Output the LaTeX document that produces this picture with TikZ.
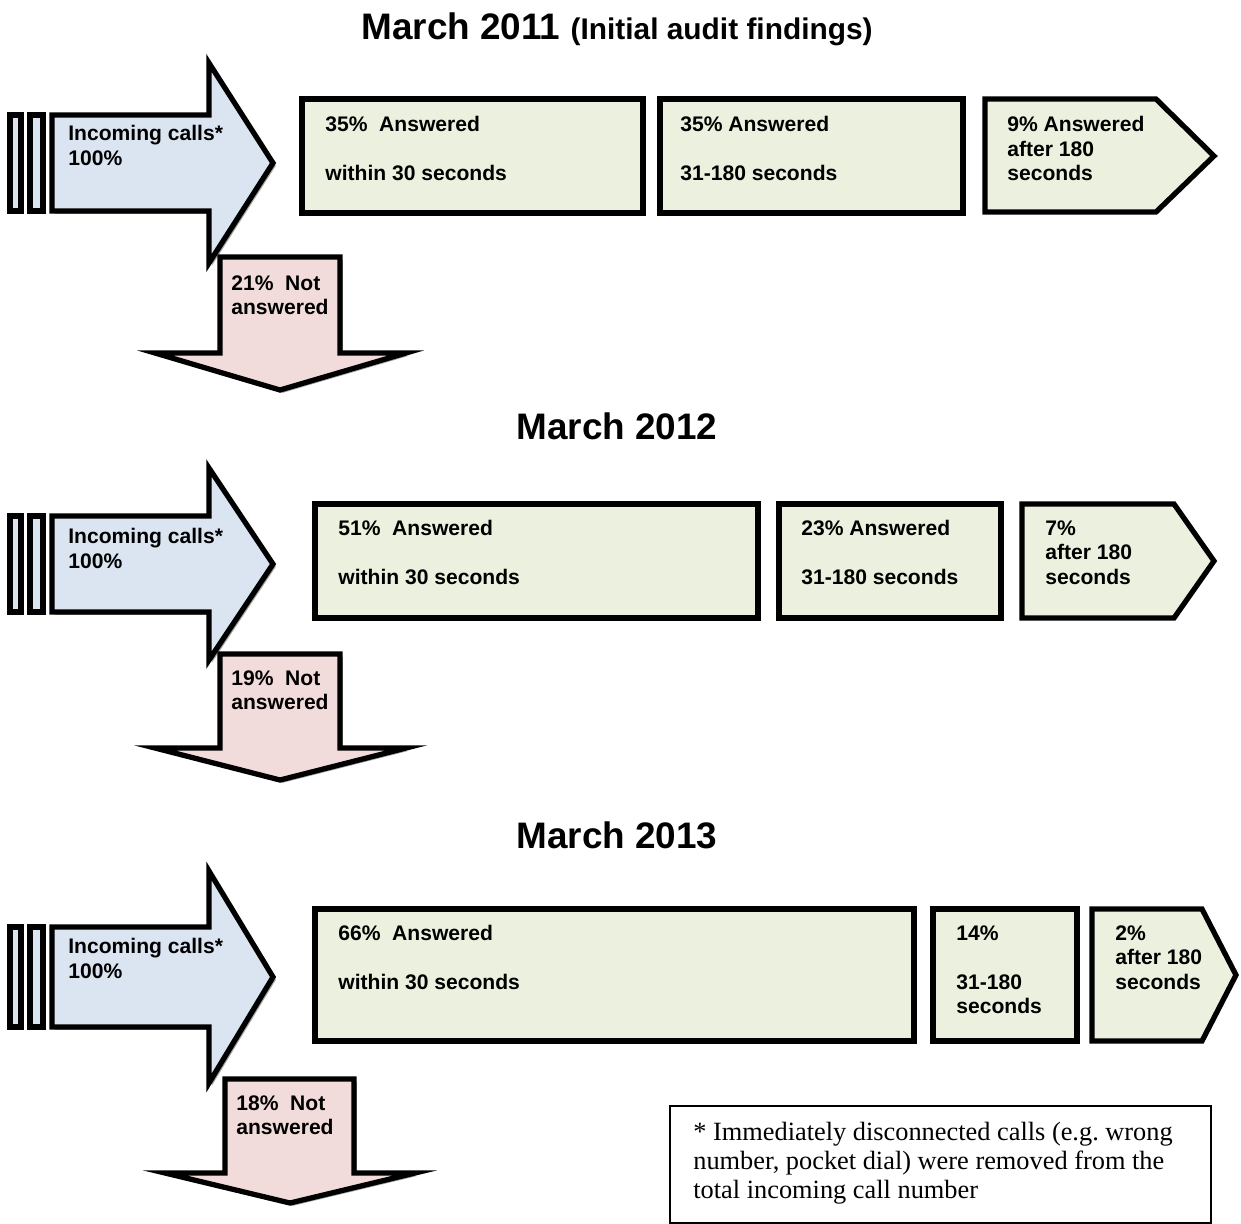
\documentclass[tikz,border=0pt]{standalone}
\usepackage{fontspec}
\setmainfont{Liberation Sans}
\newfontfamily\notefont{Liberation Serif}
\usepackage{xcolor}
\definecolor{callblue}{RGB}{219, 229, 241}
\definecolor{lostpink}{RGB}{242, 220, 219}
\definecolor{ansgreen}{RGB}{235, 241, 222}
\usetikzlibrary{shadows}

\begin{document}
\begin{tikzpicture}[
  x=0.02cm, y=-0.02cm,
  shade/.style={drop shadow={shadow xshift=1.6pt, shadow yshift=-1.6pt, fill=black!35, opacity=1}},
  inarrow/.style={draw=black, line width=3pt, fill=callblue, shade},
  lostarrow/.style={draw=black, line width=3pt, fill=lostpink, shade},
  ansbox/.style={draw=black, line width=3pt, fill=ansgreen},
  lbl/.style={anchor=north west, inner sep=0pt, align=left, font=\fontsize{12}{14}\selectfont\bfseries},
  title/.style={anchor=base, inner sep=0pt, font=\fontsize{21}{25}\selectfont\bfseries}
]
\useasboundingbox (0,0) rectangle (1241,1224);

% March 2011
\node[title] (title1) at (617,39) {March 2011 {\fontsize{17}{20}\selectfont (Initial audit findings)}};
\draw[inarrow] (10,115) rectangle (21,211);
\draw[inarrow] (30,115) rectangle (43,211);
\draw[inarrow] (52,115) -- (209,115) -- (209,63) -- (273,163) -- (209,263) -- (209,211) -- (52,211) -- cycle;
\draw[lostarrow] (220,257) -- (340,257) -- (340,353) -- (406,353) -- (280,390) -- (155,353) -- (220,353) -- cycle;
\draw[ansbox] (302,99) rectangle (643,213);
\draw[ansbox] (660,99) rectangle (963,213);
\draw[ansbox] (985,99) -- (1156,99) -- (1214,156) -- (1156,212) -- (985,212) -- cycle;
\node[lbl] (in1) at (68,125) {Incoming calls*\\100\%};
\node[lbl] (lost1) at (231,275) {21\%~ Not\\answered};
\node[lbl] (a1) at (325,116) {35\%~ Answered\\[14pt]within 30 seconds};
\node[lbl] (b1) at (680,116) {35\% Answered\\[14pt]31-180 seconds};
\node[lbl] (c1) at (1007,116) {9\% Answered\\after 180\\seconds};

% March 2012
\node[title] (title2) at (617,439) {March 2012};
\draw[inarrow] (10,516) rectangle (21,612);
\draw[inarrow] (30,516) rectangle (43,612);
\draw[inarrow] (52,516) -- (209,516) -- (209,468) -- (273,564) -- (209,660) -- (209,612) -- (52,612) -- cycle;
\draw[lostarrow] (220,654) -- (340,654) -- (340,748) -- (406,748) -- (280,780) -- (155,748) -- (220,748) -- cycle;
\draw[ansbox] (315,504) rectangle (758,618);
\draw[ansbox] (779,504) rectangle (1001,618);
\draw[ansbox] (1022,504) -- (1174,504) -- (1214,561) -- (1174,618) -- (1022,618) -- cycle;
\node[lbl] (in2) at (68,528) {Incoming calls*\\100\%};
\node[lbl] (lost2) at (231,670) {19\%~ Not\\answered};
\node[lbl] (a2) at (338,520) {51\%~ Answered\\[14pt]within 30 seconds};
\node[lbl] (b2) at (801,520) {23\% Answered\\[14pt]31-180 seconds};
\node[lbl] (c2) at (1045,520) {7\%\\after 180\\seconds};

% March 2013
\node[title] (title3) at (617,848) {March 2013};
\draw[inarrow] (10,927) rectangle (21,1027);
\draw[inarrow] (30,927) rectangle (43,1027);
\draw[inarrow] (52,927) -- (209,927) -- (209,871) -- (273,977) -- (209,1083) -- (209,1027) -- (52,1027) -- cycle;
\draw[lostarrow] (225,1079) -- (354,1079) -- (354,1173) -- (415,1173) -- (290,1203) -- (165,1173) -- (225,1173) -- cycle;
\draw[ansbox] (315,909) rectangle (914,1041);
\draw[ansbox] (933,909) rectangle (1077,1041);
\draw[ansbox] (1092,909) -- (1202,909) -- (1236,975) -- (1202,1041) -- (1092,1041) -- cycle;
\node[lbl] (in3) at (68,938) {Incoming calls*\\100\%};
\node[lbl] (lost3) at (236,1095) {18\%~ Not\\answered};
\node[lbl] (a3) at (338,925) {66\%~ Answered\\[14pt]within 30 seconds};
\node[lbl] (b3) at (956,925) {14\%\\[14pt]31-180\\seconds};
\node[lbl] (c3) at (1115,925) {2\%\\after 180\\seconds};

% footnote
\draw[line width=0.8pt] (670,1106) rectangle (1211,1223);
\node[anchor=north west, inner sep=0pt, align=left, font=\notefont\fontsize{15}{16.5}\selectfont] (note) at (693,1122)
  {* Immediately disconnected calls (e.g.\ wrong\\number, pocket dial) were removed from the\\total incoming call number};
\end{tikzpicture}
\end{document}
